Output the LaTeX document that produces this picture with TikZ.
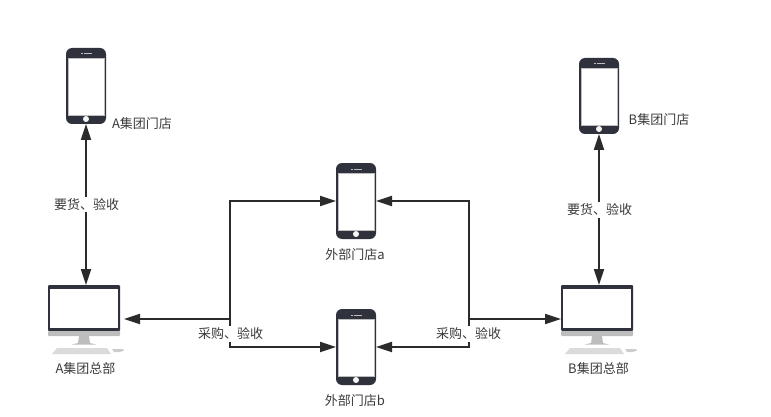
\documentclass[tikz,border=0pt]{standalone}
\usepackage{fontspec}
\setmainfont{Noto Sans CJK SC}
\usetikzlibrary{arrows.meta,calc}
\definecolor{devdark}{HTML}{2F313C}
\definecolor{devgray}{HTML}{BDBDBD}
\definecolor{linecol}{HTML}{2B2B2B}
\definecolor{txt}{HTML}{3A3A3A}
\tikzset{
  x=1pt,y=-1pt,
  phonebody/.style={fill=devdark,rounded corners=6pt,minimum width=40pt,minimum height=76pt,inner sep=0pt,outer sep=0pt},
  monbody/.style={fill=devdark,rounded corners=1pt,minimum width=72pt,minimum height=46pt,inner sep=0pt,outer sep=0pt},
  lbl/.style={font=\fontsize{13}{15}\selectfont,text=txt,inner sep=1pt},
  midlbl/.style={lbl,fill=white,inner sep=1.5pt},
  conn/.style={draw=linecol,line width=2pt,line join=miter},
  tip/.style={-{Triangle[length=16pt,width=10pt]}},
  tips/.style={{Triangle[length=16pt,width=10pt]}-{Triangle[length=16pt,width=10pt]}}
}
\newcommand{\phonedev}[3]{%
  \node[phonebody] (#1) at (#2,#3) {};
  \begin{scope}[shift={(#2,#3)}]
    \fill[white,draw=devgray,line width=0.6pt] (-17.7,-28) rectangle (18,29);
    \fill[white!85!devgray] (0,33) circle (3pt);
    \fill[devgray] (-5,-32.5) rectangle (-3.5,-31.5);
    \fill[devgray] (-2,-32.5) rectangle (6,-31.5);
  \end{scope}}
\newcommand{\monitordev}[3]{%
  \node[monbody] (#1) at (#2,#3) {};
  \begin{scope}[shift={(#2,#3)}]
    \fill[white] (-34,-19) rectangle (34,19.5);
    \fill[devgray] (-36,23) -- (36,23) [rounded corners=1pt] -- (36,28) -- (-36,28) -- cycle;
    \fill[devgray] (-5,28) -- (5,28) -- (6,35) -- (12,36.5) -- (-12,36.5) -- (-6,35) -- cycle;
    \fill[white!86!black] (-27,40) -- (23,40) -- (27,46) -- (-32,46) -- cycle;
    \fill[white!80!black] (28,41) -- (39,41) -- (40,42.5) -- (36,44) -- (30,44) -- cycle;
  \end{scope}}
\begin{document}
\begin{tikzpicture}
\useasboundingbox (0,0) rectangle (771,417);
\phonedev{pA}{86}{86}
\phonedev{pB}{599}{96}
\phonedev{pa}{356}{201}
\phonedev{pb}{356}{347}
\monitordev{mA}{84}{308}
\monitordev{mB}{597}{308}
\coordinate (jl) at (230,319);
\coordinate (jr) at (469,319);
\draw[conn,tips] (pA.south) -- (pA.south |- mA.north);
\draw[conn,tips] (pB.south) -- (pB.south |- mB.north);
\draw[conn,tip] (jl) -- ($(jl -| mA.east)+(4,0)$);
\draw[conn,tip] (jr) -- (jr -| mB.west);
\draw[conn,tip] (jl) -- (jl |- pa.west) -- (pa.west);
\draw[conn,tip] (jl) -- (jl |- pb.west) -- (pb.west);
\draw[conn,tip] (jr) -- (jr |- pa.east) -- (pa.east);
\draw[conn,tip] (jr) -- (jr |- pb.east) -- (pb.east);
\node[midlbl] (l1) at (86.5,204.5) {要货、验收};
\node[midlbl] (l2) at (599.5,210) {要货、验收};
\node[midlbl] (l3) at (230.5,334) {采购、验收};
\node[midlbl] (l4) at (468.5,334) {采购、验收};
\node[lbl] (t1) at (142,123.5) {A集团门店};
\node[lbl] (t2) at (659,120) {B集团门店};
\node[lbl] (t3) at (355,255) {外部门店a};
\node[lbl] (t4) at (355,400.5) {外部门店b};
\node[lbl] (t5) at (85.5,369) {A集团总部};
\node[lbl] (t6) at (598.5,369) {B集团总部};
\end{tikzpicture}
\end{document}
